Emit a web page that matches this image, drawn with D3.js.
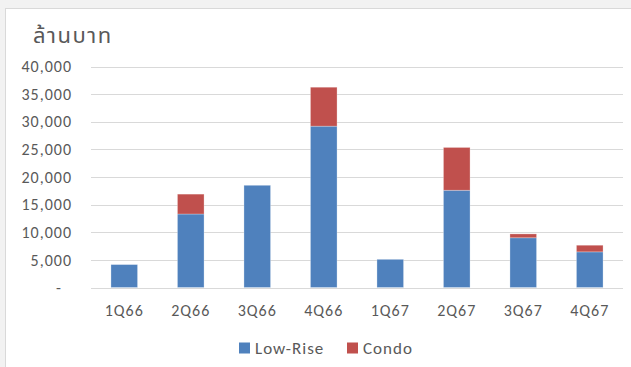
<!DOCTYPE html>
<html>
<head>
<meta charset="utf-8">
<script src="https://cdn.jsdelivr.net/npm/d3@7"></script>
<style>
  html, body { margin: 0; padding: 0; background: #f2f2f2; }
  svg { display: block; }
  text { font-family: Carlito, Calibri, Lato, "Open Sans", "Noto Sans", sans-serif; fill: #595959; }
</style>
</head>
<body>
<svg id="chart" width="631" height="367"></svg>
<script>
// Quarterly values, million baht
const quarters = ["1Q66", "2Q66", "3Q66", "4Q66", "1Q67", "2Q67", "3Q67", "4Q67"];
const lowRise = [4150, 13300, 18500, 29200, 5100, 17600, 9000, 6450];
const condo   = [0, 3600, 0, 7050, 0, 7750, 700, 1200];
const seriesNames = ["Low-Rise", "Condo"];
const seriesColors = ["#4F81BD", "#C0504D"];
const yTicks = [0, 5000, 10000, 15000, 20000, 25000, 30000, 35000, 40000];
const yTickLabels = ["-", "5,000", "10,000", "15,000", "20,000", "25,000", "30,000", "35,000", "40,000"];
const unitTitle = "ล้านบาท";

const svg = d3.select("#chart");

// chart panel
svg.append("rect")
  .attr("x", 5.5).attr("y", 8.5)
  .attr("width", 640).attr("height", 380)
  .attr("fill", "#ffffff")
  .attr("stroke", "#d9d9d9");

const plot = { left: 91, right: 623, top: 66.5, bottom: 287.5 };

const x = d3.scaleBand()
  .domain(quarters)
  .range([plot.left, plot.right])
  .paddingInner(0.6)
  .paddingOuter(0.3);

const y = d3.scaleLinear()
  .domain([0, 40000])
  .range([plot.bottom, plot.top]);

// gridlines
svg.append("g")
  .selectAll("line")
  .data(yTicks)
  .join("line")
  .attr("x1", plot.left).attr("x2", plot.right)
  .attr("y1", d => Math.round(y(d)) + 0.5)
  .attr("y2", d => Math.round(y(d)) + 0.5)
  .attr("stroke", "#d9d9d9")
  .attr("stroke-width", 1);

// y axis labels
const yAxis = d3.axisLeft(y)
  .tickValues(yTicks)
  .tickSize(0)
  .tickPadding(19)
  .tickFormat((d, i) => yTickLabels[i]);

const gy = svg.append("g")
  .attr("transform", `translate(${plot.left},0)`)
  .call(yAxis);
gy.select(".domain").remove();
gy.selectAll("text")
  .attr("font-size", 16)
  .attr("letter-spacing", 1)
  .attr("fill", "#595959")
  .attr("dx", d => d === 0 ? -10 : 0);

// x axis labels
const xAxis = d3.axisBottom(x).tickSize(0).tickPadding(17);
const gx = svg.append("g")
  .attr("transform", `translate(0,${plot.bottom})`)
  .call(xAxis);
gx.select(".domain").remove();
gx.selectAll("text")
  .attr("font-size", 16)
  .attr("letter-spacing", 1)
  .attr("fill", "#595959");

// stacked bars
const rows = quarters.map((q, i) => ({ q, "Low-Rise": lowRise[i], "Condo": condo[i] }));
const stack = d3.stack().keys(seriesNames)(rows);

svg.append("g")
  .selectAll("g")
  .data(stack)
  .join("g")
  .attr("fill", (d, i) => seriesColors[i])
  .selectAll("rect")
  .data(d => d.filter(s => s[1] - s[0] > 0))
  .join("rect")
  .attr("x", d => x(d.data.q))
  .attr("y", d => y(d[1]))
  .attr("width", x.bandwidth())
  .attr("height", d => y(d[0]) - y(d[1]))
  .attr("stroke", "rgba(255,255,255,0.35)")
  .attr("stroke-width", 0.8);

// unit title
svg.append("text")
  .attr("x", 33).attr("y", 43)
  .attr("font-size", 22)
  .attr("letter-spacing", 1.5)
  .attr("fill", "#404040")
  .style("font-family", "'Noto Sans Thai', 'Noto Sans', Tahoma, sans-serif")
  .text(unitTitle);

// legend
const legend = svg.append("g").attr("transform", "translate(239,348)");
const legendOffsets = [0, 108];
seriesNames.forEach((name, i) => {
  const g = legend.append("g").attr("transform", `translate(${legendOffsets[i]},0)`);
  g.append("rect")
    .attr("x", 0).attr("y", -5.5)
    .attr("width", 11).attr("height", 11)
    .attr("fill", seriesColors[i]);
  g.append("text")
    .attr("x", 16).attr("y", 0)
    .attr("dy", "0.36em")
    .attr("font-size", 17)
    .attr("letter-spacing", 1)
    .text(name);
});
</script>
</body>
</html>
